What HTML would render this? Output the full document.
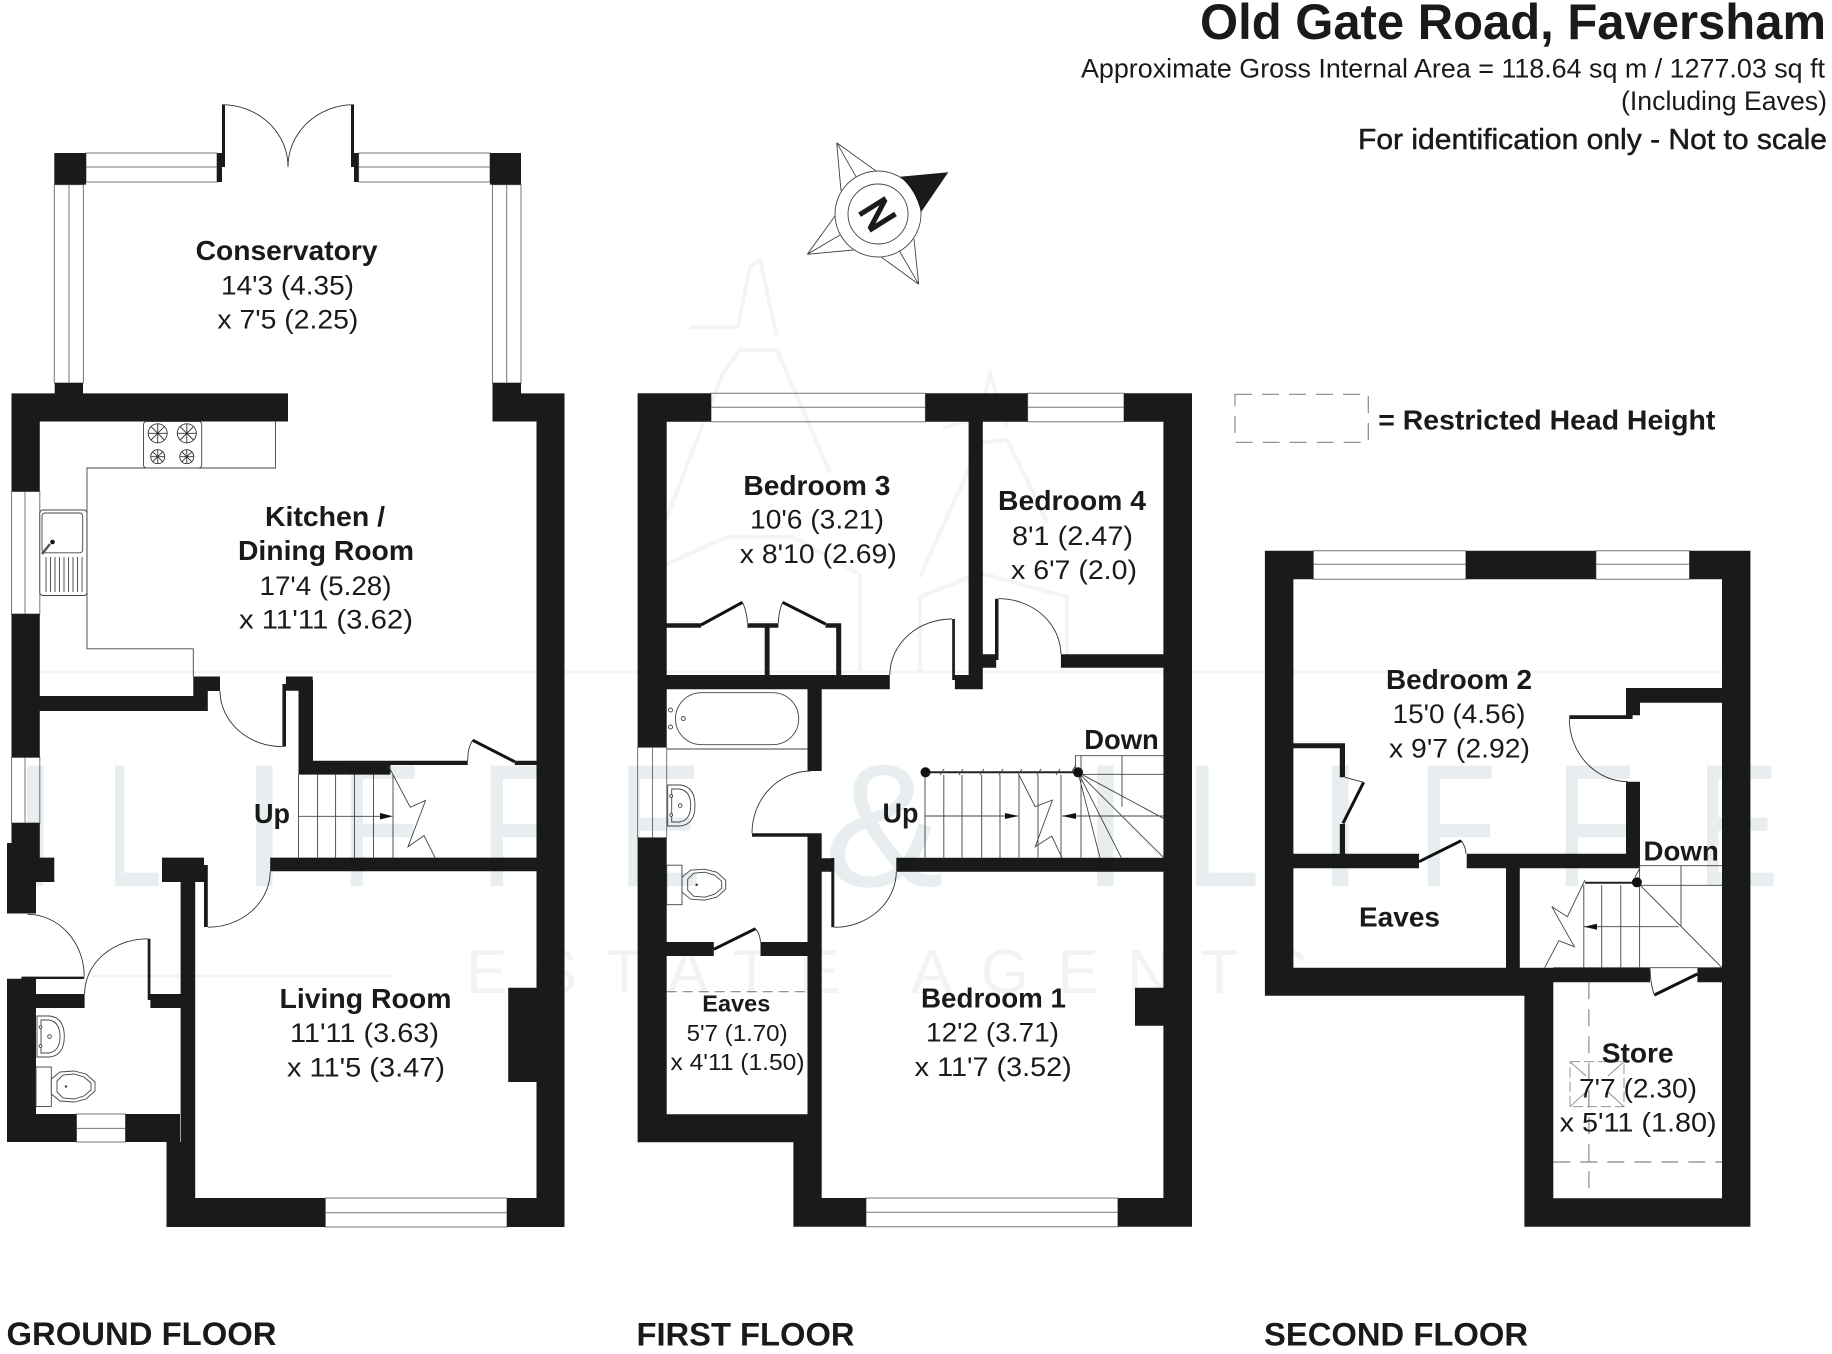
<!DOCTYPE html>
<html><head><meta charset="utf-8">
<style>
html,body{margin:0;padding:0;background:#fff}
svg{display:block}
text{font-family:"Liberation Sans",sans-serif;fill:#1a1a1a}
.b{font-weight:bold;font-size:28px}
.r{font-size:27px}
.l{fill:none;stroke:#444;stroke-width:.9}
.a{fill:none;stroke:#333;stroke-width:.9}
.w{fill:#fff;stroke:#777;stroke-width:1}
.t{fill:none;stroke:#111;stroke-width:3}
.d{fill:none;stroke:#888;stroke-width:1.2;stroke-dasharray:17 10}
.h{fill:none;stroke:#f4f4f4;stroke-width:4;stroke-linejoin:round}
</style></head>
<body>
<svg width="1832" height="1354" viewBox="0 0 1832 1354" xmlns="http://www.w3.org/2000/svg">
<rect width="1832" height="1354" fill="#fff"/>

<!-- windows -->
<g>
<path class="w" d="M86 153H217V182H86ZM86 167H217M358.6 153H490V182H358.6ZM358.6 167H490"/>
<path class="w" d="M54.3 184.6H83.4V383H54.3ZM69 184.6V383M492.5 184.6H521V383H492.5ZM506.7 184.6V383"/>
<path class="w" d="M11.5 491.5H39.8V614H11.5ZM25 491.5V614M11.5 757.4H39.8V823H11.5ZM25 757.4V823"/>
<path class="w" d="M76.5 1114H125.5V1142H76.5ZM76.5 1128.4H125.5M325.3 1198H507V1227H325.3ZM325.3 1212.7H507"/>
<path class="w" d="M711 393.3H925.4V421.7H711ZM711 407.3H925.4M1027.6 393.3H1124V421.7H1027.6ZM1027.6 407.3H1124"/>
<path class="w" d="M637.6 747.3H666.7V837.7H637.6ZM652.5 747.3V837.7M866 1198H1117.9V1226.7H866ZM866 1212.3H1117.9"/>
<path class="w" d="M1313.3 550.7H1465.9V579.3H1313.3ZM1313.3 564.3H1465.9M1595.9 550.7H1689.5V579.3H1595.9ZM1595.9 564.3H1689.5"/>
</g>

<!-- walls -->
<path fill="#1a1a1a" d="
M54.3 153H86V184.6H54.3Z M490 153H521V184.6H490Z
M217 153H222V182H217Z M222 104.7H225V167H222Z M351 104.7H354V167H351Z M354 153H358.6V182H354Z
M54.7 383H83V394H54.7Z M11.5 393.4H288V421.5H11.5Z M492.5 383H521V394H492.5Z M492.5 393.4H564.5V421.5H492.5Z
M536.5 393.4H564.5V1227H536.5Z M11.5 393.4H39.8V491.5H11.5Z M11.5 614H39.8V757.4H11.5Z M11.5 823H39.8V860H11.5Z
M7 843H36V913.5H7Z M36 857.6H54.3V882H36Z M7 978.8H36V1142H7Z M7 1114H76.5V1142H7Z M125.5 1114H180V1142H125.5Z
M21.4 976.6H84.2V979H21.4Z M36 994H84.6V1008H36Z M150.4 994H195V1008H150.4Z M147.7 938.8H150.4V1000H147.7Z
M180.6 857.6H195.2V1142H180.6Z M162 857.6H204V882H162Z M204 865H207.8V927H204Z M270.2 857.6H536.5V871.3H270.2Z
M166.5 1142H195.2V1227H166.5Z M166.5 1198H325.3V1227H166.5Z M507 1198H564.5V1227H507Z M508.2 987.8H536.5V1082H508.2Z
M285.9 676.5H312.7V690.7H285.9Z M282.4 684H286V746.6H282.4Z M298.5 680H313V774.6H298.5Z M298.5 760.8H390.4V774.6H298.5Z
M390 760.8H467.7V765H390Z M514.7 760.8H536.5V765H514.7Z M39.8 696H207.8V711H39.8Z M193.3 676.5H220V691H193.3Z M193.3 676.5H207.8V711H193.3Z

M637.6 393.3H711V421.7H637.6Z M925.4 393.3H1027.6V421.7H925.4Z M1124 393.3H1192V421.7H1124Z
M637.6 393.3H666.7V747.3H637.6Z M637.6 837.7H666.7V1142.3H637.6Z M637.6 1114.3H807.5V1142.3H637.6Z M793.4 1114.3H821.7V1226.7H793.4Z
M1163.4 393.3H1192V1226.7H1163.4Z M793.4 1198H866V1226.7H793.4Z M1117.9 1198H1192V1226.7H1117.9Z M1135 987.7H1163.4V1025.7H1135Z
M968.6 421.7H982.8V689.3H968.6Z M954.9 675H982.8V689.3H954.9Z M952.2 619H954.9V680H952.2Z M666.7 675H889.8V689.3H666.7Z
M666.7 623.3H701.1V627.7H666.7Z M747.4 623.3H778.4V627.7H747.4Z M764.7 623.3H769.6V675H764.7Z M825.5 623.3H841.2V627.7H825.5Z M836.2 623.3H841.2V675H836.2Z
M995 598.7H998.5V660H995Z M982.8 654.3H996.2V667.7H982.8Z M1060.9 654.3H1163.4V667.7H1060.9Z
M807.5 689.3H821.7V771H807.5Z M752 833.3H821.7V836.7H752Z M807.5 836.7H821.7V1142H807.5Z M821.7 858.3H833V871.7H821.7Z M831.3 858H834.3V927.3H831.3Z
M896.3 857.7H1163.4V871.7H896.3Z M666.7 942H713.8V956H666.7Z M760.5 942H807.5V956H760.5Z

M1264.9 550.7H1313.3V579.3H1264.9Z M1465.9 550.7H1595.9V579.3H1465.9Z M1689.5 550.7H1750.4V579.3H1689.5Z
M1264.9 550.7H1293.4V995.7H1264.9Z M1722 550.7H1750.4V1226.7H1722Z M1264.9 967.7H1553.3V995.7H1264.9Z M1524.4 967.7H1553.3V1226.7H1524.4Z
M1553.3 967.7H1650V982.3H1553.3Z M1697.4 967.7H1722V982.3H1697.4Z M1524.4 1198.3H1750.4V1226.7H1524.4Z
M1626 688H1722V702.7H1626Z M1626 702.7H1640V715.3H1626Z M1569.3 715.3H1632.6V719H1569.3Z M1626 781.7H1640V868.3H1626Z
M1293.4 853.7H1419V868.3H1293.4Z M1466.7 853.7H1640V868.3H1466.7Z M1293.4 743.3H1345V748.3H1293.4Z M1339.8 743.3H1345V777.3H1339.8Z M1339.8 824H1345V853.7H1339.8Z
M1506 868.3H1519.8V968H1506Z"/>

<!-- door arcs -->
<path class="a" d="M222 104.7A66 62 0 0 1 288 167M353.6 104.7A66 62 0 0 0 288 167
M220 691A62 56 0 0 0 282.4 746.6M207.8 927.2A62 56 0 0 0 270.2 871.3M27.5 914.3A57 62 0 0 1 84.2 976.6M147.7 938.8A63 55 0 0 0 84.6 994
M952.2 619A62 56 0 0 0 889.8 675M998.5 598.7A62 56 0 0 1 1060.9 654.3M810.6 771A59 62 0 0 0 752 833.3M834.3 927.3A62 56 0 0 0 896.3 871.7
M1569.3 719A59 63 0 0 0 1627.9 781.7"/>
<!-- cupboard doors -->
<path class="t" d="M472.6 740.2L514.7 761.7M701 625L742.5 602.3M782.6 602.3L825.5 624M713.8 949.3L755.5 928.7M1419 861.7L1461.2 840.7M1363.6 782.3L1343 823.3M1654.4 995L1697.4 974"/>
<path class="a" d="M472.6 740.2Q467.5 748 467.7 761M742.5 602.3Q747 612 747.4 623M782.6 602.3Q778.5 612 778.4 623M755.5 928.7Q760 934 760.5 942M1461.2 840.7Q1465.5 846 1466 853.7M1345 777.3L1363.6 782.3M1650 968.3Q1650.5 985 1654.4 995"/>

<!-- kitchen -->
<path class="l" d="M275.5 421.5V468H87V648.8H193.3V676.5"/>
<rect x="143.5" y="421.5" width="58.2" height="46.5" rx="3" fill="#fff" stroke="#444" stroke-width=".9"/>
<g fill="none" stroke="#333" stroke-width=".9">
<circle cx="157.7" cy="433.3" r="9.5"/><circle cx="186.8" cy="433.3" r="9.5"/><circle cx="157.7" cy="456.7" r="7"/><circle cx="186.8" cy="456.7" r="7"/>
<path d="M148.2 433.3H167.2M157.7 423.8V442.8M151 426.6L164.4 440M151 440L164.4 426.6M177.3 433.3H196.3M186.8 423.8V442.8M180.1 426.6L193.5 440M180.1 440L193.5 426.6M150.7 456.7H164.7M157.7 449.7V463.7M152.7 451.7L162.7 461.7M152.7 461.7L162.7 451.7M179.8 456.7H193.8M186.8 449.7V463.7M181.8 451.7L191.8 461.7M181.8 461.7L191.8 451.7"/>
</g>
<rect x="39.8" y="510" width="47.1" height="85.5" rx="3" fill="#fff" stroke="#444" stroke-width=".9"/>
<rect x="42" y="513" width="40.7" height="39.8" rx="3" fill="none" stroke="#444" stroke-width=".9"/>
<circle cx="52.5" cy="542" r="2.3" fill="#111"/>
<path d="M42 554L50 544" stroke="#555" stroke-width="2.5" fill="none"/>
<path class="l" d="M46 557V592M50.5 557V592M55 557V592M59.5 557V592M64 557V592M68.5 557V592M73 557V592M77.5 557V592M82 557V592"/>

<!-- ground stairs -->
<path class="l" d="M298.5 774.6V857.6M317.6 774.6V857.6M335.6 774.6V857.6M354.4 774.6V857.6M373.5 774.6V857.6M393 774.6V857.6M298.5 816.3H385M388.4 766L410.3 807.3L425.6 800.4L408 846.8L424 835.6L435 857.6"/>
<path d="M380 813L393 816.3L380 819.5Z" fill="#111"/>

<!-- fixtures -->
<g id="wc" fill="#fff" stroke="#444" stroke-width=".9">
<rect x="36" y="1067" width="15.3" height="39.5"/>
<path d="M51.3 1079L60 1072L74 1071L86 1074L95 1082V1091L86 1099L74 1102L60 1101L51.3 1094Z"/>
<path d="M57 1081L63 1075L74 1074L84 1077L91 1083V1090L84 1096L74 1099L63 1098L57 1092Z"/>
<circle cx="66" cy="1086.5" r=".8" fill="#111"/>
</g>
<g id="bs" fill="#fff" stroke="#444" stroke-width=".9">
<path d="M37 1016H50Q64.3 1018 64.3 1036.5Q64.3 1055 50 1057H37Z"/>
<path d="M41 1020H49Q60 1022 60 1036.5Q60 1051 49 1053H41Z"/>
<circle cx="49.5" cy="1036.5" r="1.8"/><circle cx="40.5" cy="1027" r="1.4"/><circle cx="40.5" cy="1046" r="1.4"/>
</g>
<use href="#wc" transform="translate(630.7 -201.8)"/>
<use href="#bs" transform="translate(630.7 -231)"/>
<!-- bath -->
<rect x="675.5" y="692.7" width="123.2" height="52" rx="26" fill="#fff" stroke="#444" stroke-width=".9"/>
<path class="l" d="M666.7 749H807.5"/>
<g fill="#fff" stroke="#444" stroke-width=".9"><circle cx="670.5" cy="710" r="2"/><circle cx="670.5" cy="727" r="2"/><circle cx="683.3" cy="718.5" r="2"/></g>

<!-- first floor stairs -->
<path class="l" d="M925 775V857.7M943.8 775V857.7M962 775V857.7M981.7 775V857.7M1000 775V857.7M1019 775V857.7M1038 775V857.7M1061 775V857.7M1081 755.7V857.7
M925 816H1018M1062 816H1163.4M1075.4 772V755.7H1163.4M1081 774.3H1163.4M1122 755.7V806.7
M1078 772.3L1163.4 818.3M1078 772.3L1163.4 857.3M1078 772.3L1121.3 857.7M1078 772.3L1100 857.7
M1019 775L1035.2 806.7L1052.5 800L1035.2 846.7L1051.7 836L1062 857.7"/>
<path d="M1005 813L1019 816L1005 819ZM1062 816L1076 813V819Z" fill="#111"/>
<path d="M925 772.3H1078" stroke="#222" stroke-width="2"/>
<path class="l" d="M940 775L944 769M959 775L963 769M980 775L984 769M999 775L1003 769M1018 775L1022 769M1037 775L1041 769M1056 775L1060 769M1072 771L1076 765"/>
<circle cx="925.5" cy="772.3" r="5" fill="#111"/><circle cx="1078" cy="772.3" r="5" fill="#111"/>

<!-- second floor stairs -->
<path class="l" d="M1583.8 885V967.7M1601.7 885V967.7M1620.8 885V967.7M1639.6 865.7V967.7M1637 885.3H1722M1640 865.7H1722M1681 865.7V926.7M1583.8 926.7H1678.6M1637.6 882.7L1722 967.7
M1585 880L1567.4 916.7L1551.8 906.7L1574.4 946.7L1558.8 940.7L1544.7 967.7M1640 868L1635 877M1553.3 967.7H1722"/>
<path d="M1584 926.7L1597 923.7V929.7Z" fill="#111"/>
<path d="M1585 882.7H1637" stroke="#222" stroke-width="2"/>
<circle cx="1636.9" cy="882.3" r="5" fill="#111"/>

<!-- dashes -->
<path class="d" d="M666.7 991.7H807.5" style="stroke-dasharray:10 6"/>
<path class="d" d="M1588.9 982.3V1198.3M1553.3 1162H1722"/>
<path class="d" d="M1235 394.3H1368.3V442.3H1235Z"/>
<g fill="none" stroke="#888" stroke-width=".9">
<path d="M1570 1061.7H1624V1106.7H1570Z" stroke-dasharray="10 4"/>
<path d="M1570 1061.7L1586 1076M1624 1061.7L1608 1076M1570 1106.7L1586 1092M1624 1106.7L1608 1092"/>
</g>

<!-- compass -->
<g fill="none" stroke="#444" stroke-width=".9">
<path d="M836.7 142.7L876 171M836.7 142.7L856 176.7M836.7 142.7L841 190.7"/>
<path d="M807.3 254.3L835 216M807.3 254.3L840 235M807.3 254.3L853.3 250"/>
<path d="M918.7 284.3L880.7 256.7M918.7 284.3L899.3 250.7M918.7 284.3L914 239"/>
<circle cx="878" cy="214" r="43"/><circle cx="878" cy="214" r="30"/>
</g>
<path d="M900 176.7L948.3 172.3L921 212.3Q916 190 900 176.7Z" fill="#1a1a1a"/>
<text transform="translate(878 214) rotate(58)" x="-14" y="15" font-size="42" textLength="28" lengthAdjust="spacingAndGlyphs" style="stroke:#1c1c1c;stroke-width:2">N</text>

<!-- labels -->
<g>
<text class="b" x="195.6" y="260" textLength="182" lengthAdjust="spacingAndGlyphs">Conservatory</text>
<text class="r" x="221" y="294.5" textLength="133" lengthAdjust="spacingAndGlyphs">14'3 (4.35)</text>
<text class="r" x="217.4" y="328.5" textLength="141" lengthAdjust="spacingAndGlyphs">x 7'5 (2.25)</text>
<text class="b" x="265" y="526" textLength="120" lengthAdjust="spacingAndGlyphs">Kitchen /</text>
<text class="b" x="238" y="560" textLength="176" lengthAdjust="spacingAndGlyphs">Dining Room</text>
<text class="r" x="259.5" y="595" textLength="132" lengthAdjust="spacingAndGlyphs">17'4 (5.28)</text>
<text class="r" x="239" y="628.7" textLength="174" lengthAdjust="spacingAndGlyphs">x 11'11 (3.62)</text>
<text class="b" x="254" y="823" textLength="36" lengthAdjust="spacingAndGlyphs">Up</text>
<text class="b" x="279.5" y="1008" textLength="172" lengthAdjust="spacingAndGlyphs">Living Room</text>
<text class="r" x="290" y="1042" textLength="149" lengthAdjust="spacingAndGlyphs">11'11 (3.63)</text>
<text class="r" x="287" y="1076.5" textLength="158" lengthAdjust="spacingAndGlyphs">x 11'5 (3.47)</text>
<text class="b" x="6.5" y="1345" style="font-size:32px" textLength="270" lengthAdjust="spacingAndGlyphs">GROUND FLOOR</text>

<text class="b" x="1084.2" y="749" textLength="74.6" lengthAdjust="spacingAndGlyphs">Down</text>
<text class="b" x="882.5" y="822.7" textLength="36" lengthAdjust="spacingAndGlyphs">Up</text>
<text class="b" x="743.4" y="495" textLength="147" lengthAdjust="spacingAndGlyphs">Bedroom 3</text>
<text class="r" x="750" y="528.5" textLength="134" lengthAdjust="spacingAndGlyphs">10'6 (3.21)</text>
<text class="r" x="739.8" y="563" textLength="157" lengthAdjust="spacingAndGlyphs">x 8'10 (2.69)</text>
<text class="b" x="998" y="510" textLength="148" lengthAdjust="spacingAndGlyphs">Bedroom 4</text>
<text class="r" x="1012" y="545" textLength="121" lengthAdjust="spacingAndGlyphs">8'1 (2.47)</text>
<text class="r" x="1011" y="579" textLength="126" lengthAdjust="spacingAndGlyphs">x 6'7 (2.0)</text>
<text class="b" x="702.3" y="1011.7" style="font-size:23.5px" textLength="68" lengthAdjust="spacingAndGlyphs">Eaves</text>
<text class="r" x="686.6" y="1041" style="font-size:23px" textLength="101" lengthAdjust="spacingAndGlyphs">5'7 (1.70)</text>
<text class="r" x="670.5" y="1070" style="font-size:23px" textLength="134" lengthAdjust="spacingAndGlyphs">x 4'11 (1.50)</text>
<text class="b" x="921" y="1007.3" textLength="145" lengthAdjust="spacingAndGlyphs">Bedroom 1</text>
<text class="r" x="926" y="1041.5" textLength="133" lengthAdjust="spacingAndGlyphs">12'2 (3.71)</text>
<text class="r" x="914.7" y="1076" textLength="157" lengthAdjust="spacingAndGlyphs">x 11'7 (3.52)</text>
<text class="b" x="636.5" y="1345.7" style="font-size:32px" textLength="218" lengthAdjust="spacingAndGlyphs">FIRST FLOOR</text>

<text class="b" x="1386" y="689" textLength="146" lengthAdjust="spacingAndGlyphs">Bedroom 2</text>
<text class="r" x="1392.5" y="723" textLength="133" lengthAdjust="spacingAndGlyphs">15'0 (4.56)</text>
<text class="r" x="1389" y="757.5" textLength="141" lengthAdjust="spacingAndGlyphs">x 9'7 (2.92)</text>
<text class="b" x="1643.5" y="860.7" textLength="75.3" lengthAdjust="spacingAndGlyphs">Down</text>
<text class="b" x="1359" y="926.7" textLength="81" lengthAdjust="spacingAndGlyphs">Eaves</text>
<text class="b" x="1601.7" y="1062.7" textLength="72" lengthAdjust="spacingAndGlyphs">Store</text>
<text class="r" x="1579" y="1097.3" textLength="118" lengthAdjust="spacingAndGlyphs">7'7 (2.30)</text>
<text class="r" x="1559.6" y="1131.7" textLength="157" lengthAdjust="spacingAndGlyphs">x 5'11 (1.80)</text>
<text class="b" x="1264" y="1345.7" style="font-size:32px" textLength="264" lengthAdjust="spacingAndGlyphs">SECOND FLOOR</text>

<text class="b" x="1378.3" y="429.5" style="font-size:28px" textLength="337" lengthAdjust="spacingAndGlyphs">= Restricted Head Height</text>
<text x="1200" y="39" style="font-size:50px;font-weight:bold" textLength="626" lengthAdjust="spacingAndGlyphs">Old Gate Road, Faversham</text>
<text x="1081" y="77.3" style="font-size:27px" textLength="744" lengthAdjust="spacingAndGlyphs">Approximate Gross Internal Area = 118.64 sq m / 1277.03 sq ft</text>
<text x="1621" y="110" style="font-size:27px" textLength="206" lengthAdjust="spacingAndGlyphs">(Including Eaves)</text>
<text x="1358" y="149" style="font-size:29px;stroke:#1a1a1a;stroke-width:.5" textLength="469" lengthAdjust="spacingAndGlyphs">For identification only - Not to scale</text>
</g>

<!-- watermark -->
<g style="mix-blend-mode:multiply">
<path class="h" d="M690 327H738L750 267L760 260L777 337M663 527L723 373L740 350H777L793 387L830 473M943 428L980 417L990 373L1007 427M920 577L967 473L977 443L1007 440L1027 480L1047 523M660 567L727 537H793L857 573M860 573V673M920 673V597L980 573L1067 597V660"/>
<path d="M40 672H1740" stroke="#f4f4f4" stroke-width="3"/>
<path d="M92 976H390" stroke="#f2f2f2" stroke-width="2.5"/>
<g style="font-size:175px;fill:#e8edef">
<text x="11" y="886" style="fill:inherit">I</text>
<text x="107" y="886" textLength="55" lengthAdjust="spacingAndGlyphs" style="fill:inherit">L</text>
<text x="240" y="886" style="fill:inherit">I</text>
<text x="340" y="886" textLength="80" lengthAdjust="spacingAndGlyphs" style="fill:inherit">F</text>
<text x="480" y="886" textLength="80" lengthAdjust="spacingAndGlyphs" style="fill:inherit">F</text>
<text x="618" y="886" textLength="84" lengthAdjust="spacingAndGlyphs" style="fill:inherit">E</text>
<text x="824" y="886" textLength="120" lengthAdjust="spacingAndGlyphs" style="fill:inherit">&amp;</text>
<text x="1081" y="886" style="fill:inherit">I</text>
<text x="1185" y="886" textLength="75" lengthAdjust="spacingAndGlyphs" style="fill:inherit">L</text>
<text x="1316" y="886" style="fill:inherit">I</text>
<text x="1417" y="886" textLength="80" lengthAdjust="spacingAndGlyphs" style="fill:inherit">F</text>
<text x="1555" y="886" textLength="80" lengthAdjust="spacingAndGlyphs" style="fill:inherit">F</text>
<text x="1697" y="886" textLength="82" lengthAdjust="spacingAndGlyphs" style="fill:inherit">E</text>
</g>
<text x="466" y="993" style="font-size:62px;fill:#f3f3f3" textLength="842" lengthAdjust="spacing">ESTATE AGENTS</text>
</g>
</svg>
</body></html>
